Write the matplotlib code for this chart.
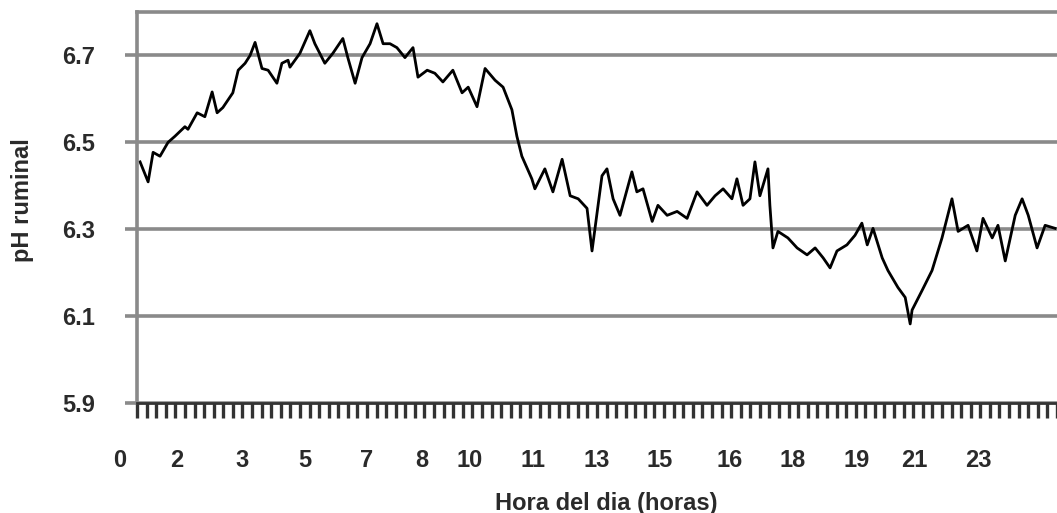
import matplotlib
matplotlib.use("Agg")
from matplotlib import pyplot as plt
from matplotlib.ticker import MultipleLocator
import numpy as np

# lectura del pH ruminal a lo largo del dia (hora, pH)
horas = [0.08, 0.29, 0.42, 0.60, 0.81, 0.99, 1.25, 1.33, 1.57, 1.77, 1.96, 2.09, 2.24, 2.50,
         2.64, 2.82, 2.95, 3.08, 3.26, 3.42, 3.65, 3.78, 3.94,
         3.99, 4.25, 4.51, 4.64, 4.90, 5.11, 5.37, 5.50, 5.69, 5.87, 6.08, 6.26, 6.42, 6.60,
         6.78, 6.99, 7.20, 7.33, 7.57, 7.77, 7.98,
         8.24, 8.48, 8.64, 8.87, 9.08, 9.34, 9.55, 9.78, 9.91, 10.04, 10.30, 10.38, 10.64,
         10.85, 11.09, 11.30, 11.51, 11.74, 11.87, 12.13,
         12.26, 12.42, 12.60, 12.91, 13.04, 13.20, 13.44, 13.59, 13.83, 14.09, 14.35, 14.61,
         14.87, 15.08, 15.29, 15.52, 15.65, 15.81, 15.99, 16.12,
         16.25, 16.46, 16.51, 16.59, 16.72, 16.98, 17.22, 17.48, 17.69, 17.90, 18.08, 18.26,
         18.52, 18.73, 18.91, 19.05, 19.20, 19.44, 19.59, 19.85, 20.04, 20.17,
         20.22, 20.48, 20.74, 21.00, 21.26, 21.42, 21.68, 21.91, 22.07, 22.31, 22.46, 22.65,
         22.91, 23.09, 23.25, 23.48, 23.69, 23.95]
ph = [6.455, 6.409, 6.477, 6.468, 6.500, 6.514, 6.536, 6.530, 6.568, 6.559, 6.616, 6.568, 6.580, 6.614,
      6.666, 6.682, 6.700, 6.730, 6.670, 6.666, 6.636, 6.682, 6.689,
      6.673, 6.705, 6.757, 6.727, 6.682, 6.705, 6.739, 6.695, 6.636, 6.695, 6.727, 6.773, 6.727, 6.727,
      6.718, 6.695, 6.718, 6.650, 6.666, 6.659, 6.639,
      6.666, 6.614, 6.627, 6.582, 6.670, 6.643, 6.627, 6.575, 6.514, 6.468, 6.416, 6.393, 6.439,
      6.386, 6.461, 6.377, 6.370, 6.348, 6.250, 6.423,
      6.439, 6.370, 6.332, 6.432, 6.386, 6.393, 6.318, 6.355, 6.332, 6.341, 6.325, 6.386,
      6.355, 6.377, 6.393, 6.370, 6.416, 6.355, 6.370, 6.455,
      6.377, 6.439, 6.355, 6.257, 6.295, 6.280, 6.257, 6.241, 6.257, 6.234, 6.211, 6.250,
      6.264, 6.286, 6.314, 6.264, 6.302, 6.234, 6.205, 6.166, 6.143, 6.082,
      6.114, 6.159, 6.205, 6.280, 6.370, 6.295, 6.309, 6.250, 6.325, 6.280, 6.309, 6.227,
      6.332, 6.370, 6.332, 6.257, 6.309, 6.302]

# etiquetas del eje x (como en el original, no coinciden con la escala)
etiquetas_x = ["0", "2", "3", "5", "7", "8", "10", "11", "13", "15", "16", "18", "19", "21", "23"]
pos_etiquetas = [-0.44, 1.04, 2.74, 4.38, 6.0, 7.44, 8.69, 10.33, 12.0, 13.64,
                 15.47, 17.11, 18.78, 20.29, 21.94]
yticks = [5.9, 6.1, 6.3, 6.5, 6.7]

plt.rcParams['font.family'] = ['Liberation Sans', 'DejaVu Sans']
texto = "#2a2a2a"
gris = "#8a8a8a"

fig = plt.figure(figsize=(10.57, 5.13), dpi=100)
ax = fig.add_axes([137 / 1057, 1 - 403 / 513, 920 / 1057, 391 / 513])

ax.set_xlim(0, 24)
ax.set_ylim(5.9, 6.8)
ax.set_yticks(yticks)
ax.set_yticklabels([f"{v:.1f}" for v in yticks], fontsize=17, fontweight="bold", color=texto)
ax.yaxis.grid(True, color=gris, linewidth=2.6)
ax.set_axisbelow(True)

ax.plot(horas, ph, color="black", linewidth=2.0)

ax.spines["right"].set_visible(False)
ax.spines["top"].set_color(gris)
ax.spines["top"].set_linewidth(2.6)
ax.spines["left"].set_color(gris)
ax.spines["left"].set_linewidth(2.6)
ax.spines["bottom"].set_color("#333333")
ax.spines["bottom"].set_linewidth(2.0)

ax.tick_params(axis="y", length=9, width=2.6, color=gris, pad=21)
ax.xaxis.set_major_locator(MultipleLocator(0.25))
ax.tick_params(axis="x", length=11, width=2.4, color="#333333", labelbottom=False)

for lab, p in zip(etiquetas_x, pos_etiquetas):
    ax.text(p, -0.146, lab, transform=ax.get_xaxis_transform(), ha="center", va="center",
            fontsize=17, fontweight="bold", color=texto, clip_on=False)

ax.set_xlabel("Hora del dia (horas)", fontsize=17, fontweight="bold", color=texto)
ax.xaxis.set_label_coords(0.51, -0.228)
ax.set_ylabel("pH ruminal", fontsize=17, fontweight="bold", color=texto)
ax.yaxis.set_label_coords(-0.112, 0.52)

fig.savefig("out.png", dpi=100)
